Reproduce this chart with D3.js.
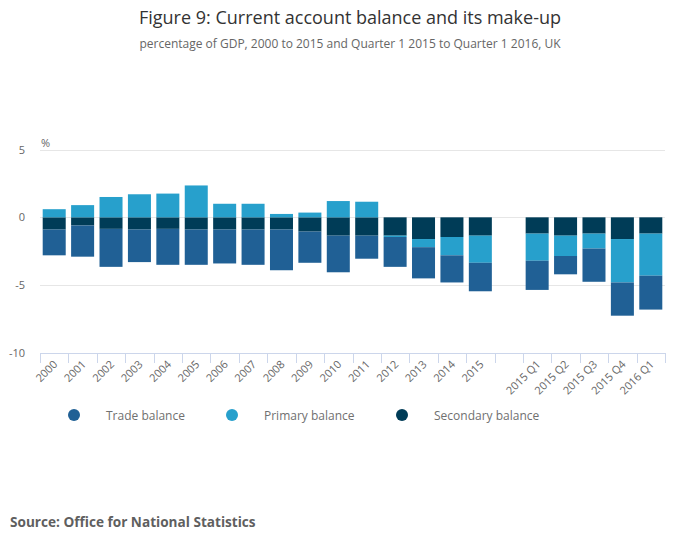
<!DOCTYPE html>
<html>
<head>
<meta charset="utf-8">
<script src="https://cdn.jsdelivr.net/npm/d3@7"></script>
<style>
  body { margin: 0; background: #fff; font-family: "Open Sans", sans-serif; }
</style>
</head>
<body>
<script>
// categories, with a blank slot between the years and the quarters
let categories = ["2000", "2001", "2002", "2003", "2004", "2005", "2006", "2007",
  "2008", "2009", "2010", "2011", "2012", "2013", "2014", "2015", "",
  "2015 Q1", "2015 Q2", "2015 Q3", "2015 Q4", "2016 Q1"];

let trade = [-1.9, -2.3, -2.8, -2.4, -2.65, -2.6, -2.5, -2.6,
  -3.0, -2.3, -2.7, -1.7, -2.2, -2.3, -2.0, -2.1, null,
  -2.15, -1.35, -2.45, -2.45, -2.5];
let primary = [0.6, 0.9, 1.5, 1.7, 1.75, 2.35, 1.0, 1.0,
  0.25, 0.35, 1.2, 1.15, -0.1, -0.6, -1.35, -2.0, null,
  -2.0, -1.5, -1.1, -3.2, -3.1];
let secondary = [-0.9, -0.6, -0.85, -0.9, -0.85, -0.9, -0.9, -0.9,
  -0.9, -1.05, -1.35, -1.35, -1.35, -1.6, -1.45, -1.35, null,
  -1.2, -1.35, -1.2, -1.6, -1.2];

let yTicks = [5, 0, -5, -10];

let series = [
  { name: "Trade balance", values: trade, color: "#206095" },
  { name: "Primary balance", values: primary, color: "#27a0cc" },
  { name: "Secondary balance", values: secondary, color: "#003c57" }
];

const W = 700, H = 549;
const plotL = 40, plotR = 665, plotT = 149.5, plotB = 353;

const svg = d3.select("body").append("svg").attr("width", W).attr("height", H);

// titles
svg.append("text").attr("x", 350).attr("y", 24).attr("text-anchor", "middle")
  .attr("font-size", 18).attr("fill", "#333")
  .text("Figure 9: Current account balance and its make-up");
svg.append("text").attr("x", 350).attr("y", 48).attr("text-anchor", "middle")
  .attr("font-size", 12).attr("fill", "#666")
  .text("percentage of GDP, 2000 to 2015 and Quarter 1 2015 to Quarter 1 2016, UK");

const keys = categories.map(c => c === "" ? "gap" : c);
const x = d3.scaleBand().domain(keys).range([plotL, plotR]).paddingInner(0.19).paddingOuter(0.095);
const y = d3.scaleLinear().domain([-10, 5]).range([plotB, plotT]);

// gridlines + y labels
svg.append("g").selectAll("line").data(yTicks.filter(t => t !== -10)).join("line")
  .attr("x1", plotL).attr("x2", plotR)
  .attr("y1", d => Math.round(y(d)) + 0.5).attr("y2", d => Math.round(y(d)) + 0.5)
  .attr("stroke", "#e6e6e6");
svg.append("g").selectAll("text").data(yTicks).join("text")
  .attr("x", 25).attr("y", d => y(d) + 4).attr("text-anchor", "end")
  .attr("font-size", 11).attr("fill", "#666").text(d => d);
svg.append("text").attr("x", 41).attr("y", 147).attr("font-size", 11).attr("fill", "#666").text("%");

// stacks: secondary nearest zero, then primary, then trade
let order = [2, 1, 0];
let segs = [];
keys.forEach((k, i) => {
  let pos = 0, neg = 0;
  order.forEach(si => {
    let v = series[si].values[i];
    if (v == null) return;
    let y0, y1;
    if (v >= 0) { y0 = pos; y1 = pos + v; pos = y1; }
    else { y0 = neg; y1 = neg + v; neg = y1; }
    segs.push({ key: k, y0: y0, y1: y1, color: series[si].color });
  });
});

svg.append("g").selectAll("rect").data(segs).join("rect")
  .attr("x", d => x(d.key)).attr("width", x.bandwidth())
  .attr("y", d => y(Math.max(d.y0, d.y1)))
  .attr("height", d => Math.abs(y(d.y0) - y(d.y1)))
  .attr("fill", d => d.color);

// x axis
const tickXs = d3.range(keys.length + 1).map(i => plotL + i * (plotR - plotL) / keys.length);
svg.append("line").attr("x1", plotL).attr("x2", plotR).attr("y1", plotB + 0.5).attr("y2", plotB + 0.5)
  .attr("stroke", "#ccd6eb");
svg.append("g").selectAll("line").data(tickXs).join("line")
  .attr("x1", d => Math.round(d) + 0.5).attr("x2", d => Math.round(d) + 0.5)
  .attr("y1", plotB).attr("y2", plotB + 10).attr("stroke", "#ccd6eb");
svg.append("g").selectAll("text").data(keys.filter(k => k !== "gap")).join("text")
  .attr("transform", d => `translate(${x(d) + x.bandwidth() / 2 + 4},${plotB + 12}) rotate(-45)`)
  .attr("text-anchor", "end").attr("font-size", 11).attr("fill", "#666")
  .text(d => d);

// legend
const legendPos = [74, 232, 402];
series.forEach((s, i) => {
  svg.append("circle").attr("cx", legendPos[i]).attr("cy", 415).attr("r", 6).attr("fill", s.color);
  svg.append("text").attr("x", legendPos[i] + 32).attr("y", 420).attr("font-size", 12)
    .attr("fill", "#707070").text(s.name);
});

// source
svg.append("text").attr("x", 10).attr("y", 527).attr("font-size", 13.6).attr("font-weight", "bold")
  .attr("fill", "#5f5f5f").text("Source: Office for National Statistics");
</script>
</body>
</html>
